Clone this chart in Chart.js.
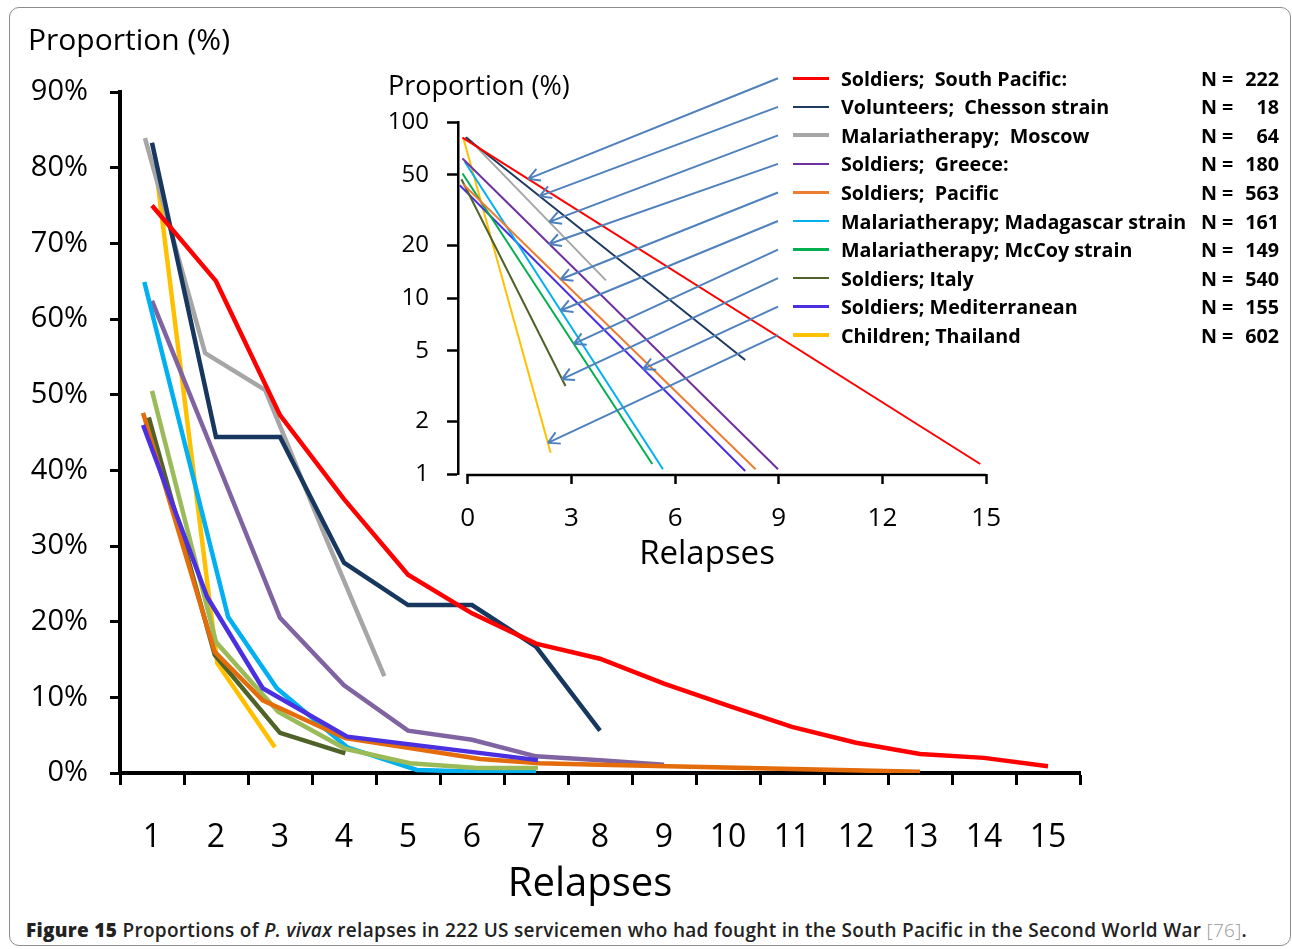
<!DOCTYPE html>
<html lang="en">
<head>
<meta charset="UTF-8">
<title>Proportions of P. vivax relapses</title>
<script src="https://cdn.jsdelivr.net/npm/chart.js"></script>
<style>
    body { margin: 0; background: #fff; font-family: 'Open Sans', sans-serif; color: #000; }
    .page { position: relative; width: 1292px; height: 949px; overflow: hidden; }
    .frame { position: absolute; left: 9px; top: 7px; width: 1282px; height: 939px; border: 1.5px solid #8c8c8c; border-radius: 10px; box-sizing: border-box; }
    canvas { position: absolute; }
    #main { left: 0; top: 0; }
    #inset { left: 370px; top: 60px; }
    .t { position: absolute; line-height: 1; white-space: nowrap; }
    #legend { position: absolute; left: 793px; top: 64px; width: 490px; font-weight: 700; font-size: 19.7px; }
    #legend .row { display: flex; align-items: center; height: 28.55px; }
    #legend .swatch { width: 36px; margin-right: 12px; }
    #legend .name { width: 360px; white-space: pre; }
    #legend .n { width: 78px; display: flex; justify-content: space-between; }
    .caption { position: absolute; left: 26px; top: 917px; font-size: 19px; letter-spacing: 0.3px; color: #222; font-weight: 600; white-space: nowrap; }
    .caption .ref { color: #999; font-weight: 300; }
</style>
</head>
<body>
<div class="page">
    <div class="frame"></div>
    <canvas id="main" width="1292" height="900"></canvas>
    <canvas id="inset" width="650" height="520"></canvas>

    <div class="t" style="left:28px; top:24px; font-size:30px;">Proportion (%)</div>
    <div class="t" style="left:590px; top:861px; font-size:40px; transform:translateX(-50%);">Relapses</div>
    <div class="t" style="left:388px; top:71px; font-size:27px;">Proportion (%)</div>
    <div class="t" style="left:707px; top:535px; font-size:33px; transform:translateX(-50%);">Relapses</div>

    <div id="legend"></div>

    <div class="caption"><b>Figure 15</b> Proportions of <i>P. vivax</i> relapses in 222 US servicemen who had fought in the South Pacific in the Second World War <span class="ref">[76]</span>.</div>
</div>

<script>
    // ---- legend (same order in both panels) ----
    const seriesNames = ['Soldiers;  South Pacific:', 'Volunteers;  Chesson strain', 'Malariatherapy;  Moscow',
        'Soldiers;  Greece:', 'Soldiers;  Pacific', 'Malariatherapy; Madagascar strain', 'Malariatherapy; McCoy strain',
        'Soldiers; Italy', 'Soldiers; Mediterranean', 'Children; Thailand'];
    const seriesN = [222, 18, 64, 180, 563, 161, 149, 540, 155, 602];
    const insetColors = ['#ff0000', '#1f3a5f', '#a6a6a6', '#7030a0', '#ed7d31', '#00b0f0', '#00b050', '#4f6228', '#4b30e0', '#ffc000'];
    const mainColors = ['#ff0000', '#17375e', '#a6a6a6', '#8064a2', '#e46c0a', '#00b0f0', '#9bbb59', '#4f6228', '#4b30e0', '#ffc000'];
    const swatchWidth = [3.5, 2.5, 4, 2.5, 2.5, 2.5, 3.5, 2.5, 3.5, 3.5];

    // ---- main panel: relapse position and proportion (%) ----
    const relapseLabels = [1, 2, 3, 4, 5, 6, 7, 8, 9, 10, 11, 12, 13, 14, 15];
    const southPacificX = [1, 2, 3, 4, 5, 6, 7, 8, 9, 10, 11, 12, 13, 14, 15];
    const southPacificY = [75.0, 65.0, 47.3, 36.2, 26.2, 21.1, 17.1, 15.1, 11.8, 8.9, 6.1, 4.0, 2.5, 2.0, 0.9];
    const chessonX = [1, 2, 3, 4, 5, 6, 7, 8];
    const chessonY = [83.3, 44.4, 44.4, 27.8, 22.2, 22.2, 16.7, 5.6];
    const moscowX = [0.89, 1.83, 2.77, 3.70, 4.63];
    const moscowY = [83.9, 55.5, 50.6, 31.4, 12.8];
    const greeceX = [1, 2, 3, 4, 5, 6, 7, 8, 9];
    const greeceY = [62.4, 41.5, 20.5, 11.6, 5.6, 4.4, 2.2, 1.7, 1.1];
    const pacificX = [0.86, 1.98, 2.73, 4.02, 6.13, 7.06, 8.0, 13.0];
    const pacificY = [47.6, 16.0, 9.6, 4.6, 1.85, 1.3, 1.1, 0.15];
    const madagascarX = [0.88, 2.19, 2.95, 4.05, 5.14, 6.0, 7.0];
    const madagascarY = [64.9, 20.6, 11.2, 3.4, 0.4, 0.2, 0.2];
    const mccoyX = [1.0, 2.0, 2.97, 4.02, 5.03, 6.08, 7.03];
    const mccoyY = [50.5, 17.3, 8.1, 3.2, 1.3, 0.66, 0.66];
    const italyX = [0.95, 1.98, 3.0, 4.02];
    const italyY = [47.0, 15.6, 5.3, 2.6];
    const mediterraneanX = [0.86, 1.86, 2.73, 4.05, 7.03];
    const mediterraneanY = [46.0, 23.3, 11.2, 4.8, 1.7];
    const thailandX = [1.08, 2.02, 2.92];
    const thailandY = [78.6, 14.5, 3.4];
    const mainYTicks = [0, 10, 20, 30, 40, 50, 60, 70, 80, 90];

    // ---- inset (log scale): straight line from start to end of each series ----
    const insetStartX = [-0.15, -0.06, -0.02, -0.15, -0.13, -0.08, -0.15, -0.18, -0.23, -0.13];
    const insetStartY = [81.6, 82, 82, 62, 44.3, 59.3, 51, 47.3, 43.7, 81.6];
    const insetEndX = [14.83, 8.03, 4.0, 8.98, 8.33, 5.65, 5.34, 2.83, 8.03, 2.4];
    const insetEndY = [1.14, 4.44, 12.6, 1.065, 1.065, 1.065, 1.14, 3.16, 1.04, 1.32];
    const insetXTicks = [0, 3, 6, 9, 12, 15];
    const insetYTicks = [1, 2, 5, 10, 20, 50, 100];
    // where each legend arrow hits its line (relapses)
    const arrowHeadX = [1.75, 2.08, 2.36, 2.36, 2.69, 2.69, 3.07, 2.73, 5.08, 2.32];

    // build legend
    const legend = document.getElementById('legend');
    seriesNames.forEach((name, i) => {
        const row = document.createElement('div');
        row.className = 'row';
        row.innerHTML = `<span class="swatch" style="height:${swatchWidth[i]}px;background:${insetColors[i]}"></span>` +
            `<span class="name">${name}</span><span class="n"><span>N =</span><span>${seriesN[i]}</span></span>`;
        legend.appendChild(row);
    });

    Chart.defaults.font.family = "'Open Sans', sans-serif";
    Chart.defaults.color = '#000';
    Chart.defaults.animation = false;

    const pts = (xs, ys) => xs.map((x, i) => ({ x: x, y: ys[i] }));

    // draw order: first dataset ends up on top
    const mainSeries = [
        [southPacificX, southPacificY, 0], [chessonX, chessonY, 1], [moscowX, moscowY, 2],
        [mediterraneanX, mediterraneanY, 8], [pacificX, pacificY, 4], [italyX, italyY, 7],
        [mccoyX, mccoyY, 6], [madagascarX, madagascarY, 5], [greeceX, greeceY, 3], [thailandX, thailandY, 9]
    ];

    new Chart(document.getElementById('main'), {
        type: 'line',
        data: {
            datasets: mainSeries.map(([xs, ys, c]) => ({
                label: seriesNames[c],
                data: pts(xs, ys),
                borderColor: mainColors[c],
                borderWidth: 4.5,
                pointRadius: 0,
                tension: 0,
                fill: false
            }))
        },
        options: {
            responsive: false,
            layout: { padding: { top: 92, right: 212, left: 0, bottom: 0 } },
            plugins: { legend: { display: false }, tooltip: { enabled: false } },
            scales: {
                x: {
                    type: 'linear', min: 0.5, max: 15.5,
                    afterBuildTicks: s => {
                        const t = [];
                        relapseLabels.forEach(r => { t.push({ value: r - 0.5 }); t.push({ value: r }); });
                        t.push({ value: relapseLabels[relapseLabels.length - 1] + 0.5 });
                        s.ticks = t;
                    },
                    afterFit: s => { s.height = 127; },
                    ticks: {
                        autoSkip: false, maxRotation: 0, padding: 34,
                        font: { size: 32 },
                        callback: v => Number.isInteger(v) ? String(v) : ''
                    },
                    grid: {
                        drawOnChartArea: false, tickLength: 12, tickWidth: 3,
                        tickColor: c => (c.tick && !Number.isInteger(c.tick.value)) ? '#000' : 'rgba(0,0,0,0)'
                    },
                    border: { color: '#000', width: 4 }
                },
                y: {
                    min: 0, max: 90,
                    afterBuildTicks: s => { s.ticks = mainYTicks.map(v => ({ value: v })); },
                    afterFit: s => { s.width = 120; },
                    ticks: { padding: 22, font: { size: 29 }, callback: v => v + '%' },
                    grid: { drawOnChartArea: false, tickLength: 10, tickWidth: 3, tickColor: '#000' },
                    border: { color: '#000', width: 4 }
                }
            }
        }
    });

    // arrows from the legend rows to the inset lines, plus the x axis line from 0
    const insetExtras = {
        id: 'insetExtras',
        afterDatasetsDraw(chart) {
            const { ctx, scales: { x, y }, chartArea } = chart;
            ctx.save();
            ctx.strokeStyle = '#000';
            ctx.lineWidth = 2.5;
            ctx.beginPath();
            ctx.moveTo(x.getPixelForValue(insetXTicks[0]) - 1, chartArea.bottom + 1);
            ctx.lineTo(x.getPixelForValue(insetXTicks[insetXTicks.length - 1]), chartArea.bottom + 1);
            ctx.stroke();

            const cb = chart.canvas.getBoundingClientRect();
            const rows = document.querySelectorAll('#legend .row');
            ctx.strokeStyle = '#4f81bd';
            ctx.lineWidth = 2;
            arrowHeadX.forEach((hx, i) => {
                const t = (hx - insetStartX[i]) / (insetEndX[i] - insetStartX[i]);
                const hy = Math.exp(Math.log(insetStartY[i]) + t * (Math.log(insetEndY[i]) - Math.log(insetStartY[i])));
                const px = x.getPixelForValue(hx), py = y.getPixelForValue(hy);
                const r = rows[i].querySelector('.swatch').getBoundingClientRect();
                const tx = r.left - cb.left - 15, ty = r.top + r.height / 2 - cb.top;
                const a = Math.atan2(py - ty, px - tx);
                ctx.beginPath();
                ctx.moveTo(tx, ty);
                ctx.lineTo(px, py);
                for (const d of [0.5, -0.5]) {
                    ctx.moveTo(px, py);
                    ctx.lineTo(px - 13 * Math.cos(a + d), py - 13 * Math.sin(a + d));
                }
                ctx.stroke();
            });
            ctx.restore();
        }
    };

    new Chart(document.getElementById('inset'), {
        type: 'line',
        data: {
            datasets: seriesNames.map((name, i) => ({
                label: name,
                data: [{ x: insetStartX[i], y: insetStartY[i] }, { x: insetEndX[i], y: insetEndY[i] }],
                borderColor: insetColors[i],
                borderWidth: 2,
                pointRadius: 0,
                fill: false
            }))
        },
        options: {
            responsive: false,
            layout: { padding: { top: 62, right: 20, left: 0, bottom: 0 } },
            plugins: { legend: { display: false }, tooltip: { enabled: false } },
            scales: {
                x: {
                    type: 'linear', min: -0.28, max: 15,
                    afterBuildTicks: s => { s.ticks = insetXTicks.map(v => ({ value: v })); },
                    afterFit: s => { s.height = 106; },
                    ticks: { autoSkip: false, maxRotation: 0, padding: 19, font: { size: 26 } },
                    grid: { drawOnChartArea: false, tickLength: 10, tickWidth: 2.5, tickColor: '#000' },
                    border: { display: false }
                },
                y: {
                    type: 'logarithmic', min: 1, max: 100,
                    afterBuildTicks: s => { s.ticks = insetYTicks.map(v => ({ value: v })); },
                    afterFit: s => { s.width = 88; },
                    ticks: { autoSkip: false, padding: 18, font: { size: 24 }, callback: v => String(v) },
                    grid: { drawOnChartArea: false, tickLength: 11, tickWidth: 2.5, tickColor: '#000' },
                    border: { color: '#000', width: 2.5 }
                }
            }
        },
        plugins: [insetExtras]
    });
</script>
</body>
</html>
